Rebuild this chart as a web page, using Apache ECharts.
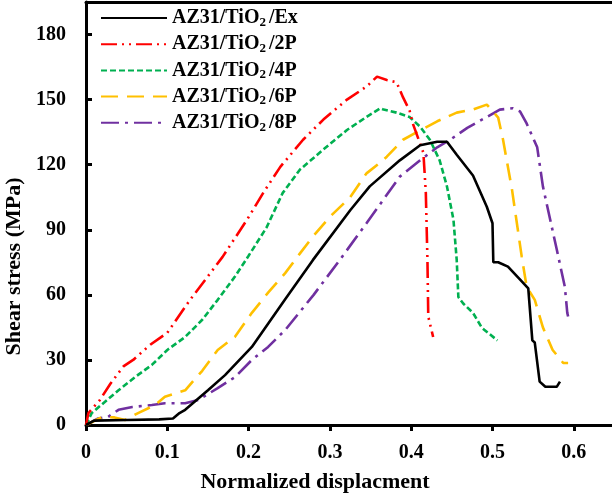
<!DOCTYPE html>
<html>
<head>
<meta charset="utf-8">
<script src="https://cdn.jsdelivr.net/npm/echarts@6/dist/echarts.min.js"></script>
<style>html,body{margin:0;padding:0;background:#fff;}#c{width:612px;height:497px;}</style>
</head>
<body>
<div id="c"></div>
<script>
const seriesNames = ['AZ31/TiO2/Ex', 'AZ31/TiO2/2P', 'AZ31/TiO2/4P', 'AZ31/TiO2/6P', 'AZ31/TiO2/8P'];
const xTicks = [0, 0.1, 0.2, 0.3, 0.4, 0.5, 0.6];
const yTicks = [0, 30, 60, 90, 120, 150, 180];

const exX = [0, 0.01, 0.05, 0.09, 0.107, 0.115, 0.122, 0.15, 0.171, 0.204, 0.245, 0.279, 0.325, 0.349, 0.386, 0.411, 0.432, 0.444, 0.456, 0.476, 0.493, 0.50, 0.501, 0.507, 0.519, 0.534, 0.544, 0.549, 0.552, 0.558, 0.565, 0.579, 0.583];
const exY = [0, 2, 2.3, 2.6, 3, 5.5, 7, 16, 23, 36, 58, 76, 99, 110, 122, 129, 130.6, 130.6, 124.6, 115, 100.6, 93, 75, 75, 73, 67, 63, 39, 38, 20, 17.6, 17.6, 20];

const p2X = [0, 0.003, 0.017, 0.03, 0.046, 0.058, 0.079, 0.1, 0.128, 0.168, 0.198, 0.218, 0.239, 0.267, 0.292, 0.321, 0.345, 0.358, 0.37, 0.382, 0.39, 0.398, 0.402, 0.415, 0.418, 0.42, 0.421, 0.427];
const p2Y = [0, 5.5, 11.5, 19, 27, 30, 37, 42.5, 57.7, 77.5, 94.6, 107, 119, 131.5, 140.8, 150, 156, 160.6, 159, 158, 151, 145, 139, 125.5, 107, 76, 50, 40.6];

const p4X = [0, 0.007, 0.04, 0.06, 0.081, 0.1, 0.122, 0.143, 0.162, 0.183, 0.2, 0.222, 0.242, 0.263, 0.292, 0.321, 0.345, 0.362, 0.366, 0.382, 0.398, 0.411, 0.423, 0.435, 0.444, 0.452, 0.456, 0.458, 0.464, 0.476, 0.487, 0.506];
const p4Y = [0, 5.5, 16, 22, 27.7, 34.6, 40.6, 48.5, 57.7, 68.3, 78, 91, 107, 117.7, 127, 136, 142, 146, 145.4, 144, 142, 137.5, 131.5, 122, 110, 94.6, 76, 59, 56, 51.7, 44.8, 39];

const p6X = [0, 0.02, 0.035, 0.048, 0.064, 0.085, 0.097, 0.122, 0.143, 0.162, 0.183, 0.204, 0.224, 0.245, 0.263, 0.279, 0.3, 0.325, 0.345, 0.362, 0.37, 0.39, 0.407, 0.432, 0.456, 0.476, 0.493, 0.497, 0.507, 0.513, 0.518, 0.524, 0.53, 0.536, 0.542, 0.552, 0.562, 0.574, 0.587, 0.593];
const p6Y = [0, 3.7, 3.5, 2.3, 5.5, 9.2, 13, 16, 25, 34.6, 40.6, 51.7, 61, 70, 79, 86.8, 96, 105, 116, 121, 123.7, 131.5, 135, 140, 144, 145.4, 147.7, 146, 141.7, 131.5, 121, 108.5, 93, 77.5, 63.7, 57.7, 45, 34.6, 28.6, 28.6];

const p8X = [0, 0.015, 0.027, 0.04, 0.057, 0.081, 0.097, 0.122, 0.138, 0.162, 0.183, 0.204, 0.224, 0.245, 0.28, 0.312, 0.345, 0.366, 0.386, 0.411, 0.432, 0.448, 0.469, 0.493, 0.509, 0.525, 0.534, 0.542, 0.555, 0.562, 0.571, 0.579, 0.589, 0.592, 0.593];
const p8Y = [0, 3, 3.7, 7, 8.3, 9.2, 10, 10, 11.5, 17, 22, 30, 36, 43.8, 60, 76, 93, 104, 114.5, 122, 128, 131.5, 137, 142, 145.4, 146, 144.5, 139, 128, 110, 94.6, 81, 63.7, 51.7, 50];

const colors = ['#000000', '#ff0000', '#00b050', '#ffc000', '#7030a0'];
const dashes = ['solid', [16, 5, 2, 5, 2, 5], [6, 3], [17, 9], [18, 6, 3, 6]];
const xs = [exX, p2X, p4X, p6X, p8X];
const ys = [exY, p2Y, p4Y, p6Y, p8Y];

const FONT = '"Liberation Serif", "Times New Roman", serif';
const chart = echarts.init(document.getElementById('c'));

const series = seriesNames.map((n, i) => ({
  name: n,
  type: 'line',
  symbol: 'none',
  smooth: false,
  data: xs[i].map((x, k) => [x, ys[i][k]]),
  lineStyle: { color: colors[i], width: 2.6, type: dashes[i] },
  itemStyle: { color: colors[i] },
  z: 5 - i
}));

chart.setOption({
  animation: false,
  backgroundColor: '#fff',
  grid: { left: 86, right: 0, top: 2, bottom: 72, containLabel: false, outerBoundsMode: 'none' },
  legend: {
    orient: 'vertical',
    left: 95,
    top: 3,
    itemWidth: 66,
    itemHeight: 12,
    itemGap: 5.2,
    itemStyle: { opacity: 0 },
    data: seriesNames,
    formatter: function (name) {
      const parts = name.split('TiO2');
      return '{a|' + parts[0] + 'TiO}{s|2}{a|' + parts[1] + '}';
    },
    textStyle: {
      rich: {
        a: { fontFamily: FONT, fontWeight: 'bold', fontSize: 20, color: '#000', lineHeight: 22 },
        s: { fontFamily: FONT, fontWeight: 'bold', fontSize: 13, color: '#000', lineHeight: 11, verticalAlign: 'bottom', padding: [0, 3, 0, 0] }
      }
    }
  },
  xAxis: [{
    type: 'value',
    min: 0,
    max: 0.647,
    interval: 0.1,
    name: 'Normalized displacment',
    nameLocation: 'middle',
    nameGap: 46,
    nameTextStyle: { fontFamily: FONT, fontWeight: 'bold', fontSize: 22, color: '#000', padding: [0, 68, 0, 0] },
    axisLine: { show: true, onZero: false, lineStyle: { color: '#000', width: 3 } },
    axisTick: { show: true, inside: false, length: 6, lineStyle: { color: '#000', width: 3 } },
    axisLabel: {
      showMaxLabel: false,
      margin: 18,
      fontFamily: FONT, fontWeight: 'bold', fontSize: 20, color: '#000',
      formatter: v => (xTicks.indexOf(Math.round(v * 10) / 10) >= 0 ? String(Math.round(v * 10) / 10) : '')
    },
    splitLine: { show: false }
  }, {
    type: 'value',
    position: 'top',
    min: 0,
    max: 0.647,
    axisLine: { show: true, onZero: false, lineStyle: { color: '#000', width: 3 } },
    axisTick: { show: false },
    axisLabel: { show: false },
    splitLine: { show: false }
  }],
  yAxis: {
    type: 'value',
    min: 0,
    max: 195,
    interval: 30,
    name: 'Shear stress (MPa)',
    nameLocation: 'middle',
    nameGap: 50,
    nameTextStyle: { fontFamily: FONT, fontWeight: 'bold', fontSize: 22, color: '#000', padding: [0, 106, 0, 0] },
    axisLine: { show: true, onZero: false, lineStyle: { color: '#000', width: 3 } },
    axisTick: { show: true, inside: true, length: 6, lineStyle: { color: '#000', width: 3 } },
    axisLabel: {
      showMaxLabel: false,
      margin: 20,
      fontFamily: FONT, fontWeight: 'bold', fontSize: 20, color: '#000',
      formatter: v => (yTicks.indexOf(v) >= 0 ? String(v) : '')
    },
    splitLine: { show: false }
  },
  series: series
});
</script>
</body>
</html>
